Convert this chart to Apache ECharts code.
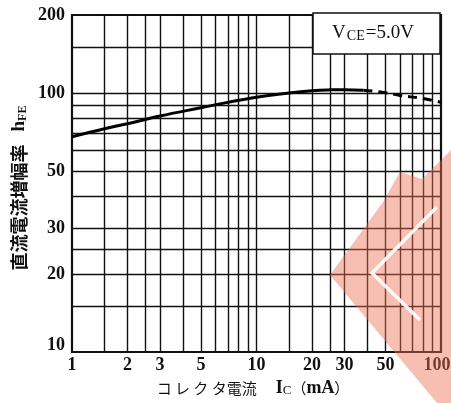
<!DOCTYPE html>
<html>
<head>
<meta charset="utf-8">
<script src="https://cdn.jsdelivr.net/npm/echarts@6/dist/echarts.min.js"></script>
<style>
html,body{margin:0;padding:0;background:#fff;}
#c{width:451px;height:403px;}
</style>
</head>
<body>
<div id="c"></div>
<script>
// ---- data ----
const xTickLabels = [1, 2, 3, 5, 10, 20, 30, 50, 100];
const yTickLabels = [10, 20, 30, 50, 100, 200];
const xGridValues = [1.5, 2, 2.5, 3, 4, 5, 6, 7, 8, 9, 10, 15, 20, 25, 30, 40, 50, 60, 70, 80, 90];
const yGridValues = [15, 20, 25, 30, 40, 50, 60, 70, 80, 90, 100, 150];
const icSolid  = [1, 1.5, 2, 3, 5, 7, 10, 15, 20, 25, 30, 38];
const hfeSolid = [67.8, 72.8, 76.1, 81.5, 87.7, 92.0, 96.3, 100.0, 102.0, 102.8, 103.0, 102.5];
const icDashed  = [38, 50, 60, 80, 100];
const hfeDashed = [102.5, 100.3, 97.8, 95.2, 92.0];
const xAxisName = 'コ レ ク タ電流';
const yAxisName = '直流電流増幅率';
const conditionLabel = '=5.0V';

const pair = (xs, ys) => xs.map((x, i) => [x, ys[i]]);

const chart = echarts.init(document.getElementById('c'), null, {renderer: 'canvas'});
const labelFont = {color: '#111', fontFamily: 'Liberation Serif', fontWeight: 'bold', fontSize: 18};
const gridLine = {color: '#111', width: 1.4, type: 'solid'};

chart.setOption({
  animation: false,
  backgroundColor: '#fff',
  grid: {left: 72, top: 15, right: 10, bottom: 51, show: true, borderColor: '#111', borderWidth: 2.2,
         backgroundColor: 'transparent', containLabel: false, outerBoundsMode: 'none'},
  xAxis: {
    type: 'log', logBase: 10, min: 1, max: 100,
    axisLine: {show: false}, axisTick: {show: false}, splitLine: {show: false}, minorSplitLine: {show: false},
    axisLabel: Object.assign({
      margin: 4, customValues: xTickLabels,
      formatter: v => (Math.round(v) === 100 ? '{end|100}' : String(Math.round(v))),
      rich: {end: Object.assign({padding: [0, 8, 0, 0]}, labelFont)}
    }, labelFont)
  },
  yAxis: {
    type: 'log', logBase: 10, min: 10, max: 200,
    axisLine: {show: false}, axisTick: {show: false}, splitLine: {show: false},
    axisLabel: Object.assign({
      margin: 7, customValues: yTickLabels,
      formatter: v => (Math.round(v) === 10 ? '{up|10}' : String(Math.round(v))),
      rich: {up: Object.assign({padding: [0, 0, 14, 0]}, labelFont)}
    }, labelFont)
  },
  series: [
    {
      type: 'line', data: [], silent: true,
      markLine: {
        silent: true, symbol: 'none', label: {show: false},
        lineStyle: gridLine,
        data: xGridValues.map(v => ({xAxis: v})).concat(yGridValues.map(v => ({yAxis: v})))
      }
    },
    {
      type: 'line', data: pair(icSolid, hfeSolid), smooth: 0.4, symbol: 'none',
      lineStyle: {color: '#000', width: 3}, z: 5
    },
    {
      type: 'line', data: pair(icDashed, hfeDashed), smooth: 0.4, symbol: 'none',
      lineStyle: {color: '#000', width: 3, type: [9, 6]}, z: 5
    }
  ],
  graphic: [
    {
      type: 'rect', shape: {x: 313, y: 13, width: 127, height: 41},
      style: {fill: '#fff', stroke: '#111', lineWidth: 1.5}, z: 10
    },
    {
      type: 'text', x: 373, y: 33, z: 11,
      style: {
        text: '{v|V}{s|CE}{v|' + conditionLabel + '}',
        align: 'center', verticalAlign: 'middle',
        rich: {
          v: {fontFamily: 'Liberation Serif', fontSize: 19, fill: '#111'},
          s: {fontFamily: 'Liberation Serif', fontSize: 14, fill: '#111', verticalAlign: 'bottom', padding: [6, 1, 0, 1]}
        }
      }
    },
    {
      type: 'text', x: 19, y: 188, rotation: Math.PI / 2, z: 11,
      style: {
        text: '{c|' + yAxisName + '}{g| }{v|h}{s|FE}',
        align: 'center', verticalAlign: 'middle',
        rich: {
          c: {fontFamily: 'Noto Sans CJK JP', fontWeight: 'bold', fontSize: 18, fill: '#111'},
          g: {fontSize: 12, width: 13},
          v: {fontFamily: 'Liberation Serif', fontWeight: 'bold', fontSize: 19, fill: '#111'},
          s: {fontFamily: 'Liberation Serif', fontWeight: 'bold', fontSize: 12, fill: '#111', verticalAlign: 'bottom', padding: [6, 0, 0, 0]}
        }
      }
    },
    {
      type: 'text', x: 253, y: 388, z: 11,
      style: {
        text: '{c|' + xAxisName + '}{g| }{v|I}{s|C}{c|（}{v|mA}{c|）}',
        align: 'center', verticalAlign: 'middle',
        rich: {
          c: {fontFamily: 'Noto Sans CJK JP', fontSize: 15, fill: '#111'},
          g: {fontSize: 12, width: 19},
          v: {fontFamily: 'Liberation Serif', fontWeight: 'bold', fontSize: 18, fill: '#111'},
          s: {fontFamily: 'Liberation Serif', fontSize: 13, fill: '#111', verticalAlign: 'bottom', padding: [6, 0, 0, 0]}
        }
      }
    },
    {
      type: 'polygon', z: 20, silent: true,
      shape: {points: [[330, 275], [383, 202], [400, 172], [422, 179], [451, 150], [451, 403], [437, 403]]},
      style: {fill: 'rgba(236,112,84,0.45)'}
    },
    {
      type: 'polyline', z: 21, silent: true,
      shape: {points: [[437, 207], [372, 273], [420, 320]]},
      style: {stroke: 'rgba(255,255,255,0.9)', lineWidth: 3.5, fill: null}
    }
  ]
});
</script>
</body>
</html>
